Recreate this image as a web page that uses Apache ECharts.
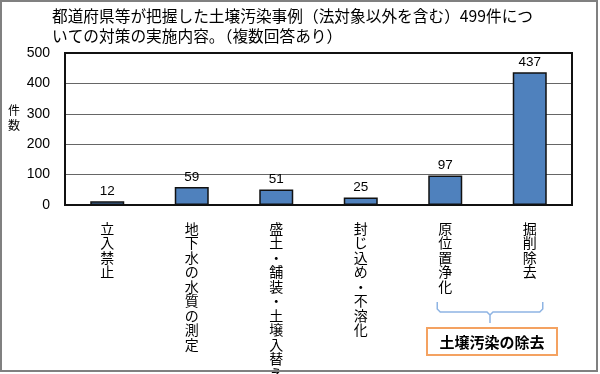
<!DOCTYPE html>
<html><head><meta charset="utf-8">
<script src="https://cdn.jsdelivr.net/npm/echarts@6/dist/echarts.min.js"></script>
<style>html,body{margin:0;padding:0;background:#fff}#c{width:600px;height:374px}</style>
</head><body><div id="c"></div>
<script>
const categories = ['立入禁止','地下水の水質の測定','盛土・舗装・土壌入替え','封じ込め・不溶化','原位置浄化','掘削除去'];
const values = [12, 59, 51, 25, 97, 437];
const yTicks = [0, 100, 200, 300, 400, 500];
const titleLines = ['都道府県等が把握した土壌汚染事例（法対象以外を含む）499件につ', 'いての対策の実施内容。（複数回答あり）'];
const groupLabel = '土壌汚染の除去';
const yName = '件数';

const jp = '"Noto Sans CJK JP", sans-serif';
const chart = echarts.init(document.getElementById('c'));
chart.setOption({
  animation: false,
  backgroundColor: '#fff',
  title: {
    text: titleLines.join('\n'), left: 47, top: 1,
    textStyle: { fontFamily: jp, fontSize: 15.7, fontWeight: 'normal', color: '#000', lineHeight: 20 }
  },
  grid: { left: 65, right: 28, top: 53, bottom: 169, outerBoundsMode: 'none', containLabel: false },
  xAxis: {
    type: 'category', data: categories,
    axisLine: { show: false }, axisTick: { show: false },
    axisLabel: {
      margin: 16, interval: 0, fontFamily: jp, fontSize: 14, color: '#000', lineHeight: 14.5,
      verticalAlign: 'top',
      formatter: v => v.split('').join('\n')
    }
  },
  yAxis: {
    type: 'value', min: yTicks[0], max: yTicks[yTicks.length - 1], interval: 100,
    axisLine: { show: false }, axisTick: { show: false },
    axisLabel: { margin: 15, fontFamily: '"Liberation Sans", sans-serif', fontSize: 14, color: '#000' },
    splitLine: { lineStyle: { color: '#666', width: 1 } }
  },
  series: [{
    type: 'bar', data: values, barWidth: 34,
    itemStyle: { color: '#4f81bd', borderColor: '#111', borderWidth: 1.5 },
    label: { show: true, position: 'top', distance: 3, fontFamily: '"Liberation Sans", sans-serif', fontSize: 13.5, color: '#000' }
  }]
});

const gridRect = chart.getModel().getComponent('grid', 0).coordinateSystem.getRect();
const c5 = chart.convertToPixel({ xAxisIndex: 0 }, categories[4]);
const c6 = chart.convertToPixel({ xAxisIndex: 0 }, categories[5]);
const bl = c5 - 8, br = c6 + 13, bm = (bl + br) / 2;
const yt = 302, yb = 312, ys = 323;
const braceStyle = { fill: 'none', stroke: '#8eb4e3', lineWidth: 1.5 };
chart.setOption({
  graphic: [
    { type: 'rect', shape: { x: 1, y: 1, width: 596, height: 370 }, style: { fill: 'none', stroke: '#808080', lineWidth: 2 }, z: 100 },
    { type: 'rect', shape: { x: gridRect.x, y: gridRect.y, width: gridRect.width, height: gridRect.height }, style: { fill: 'none', stroke: '#111', lineWidth: 2 }, z: 100 },
    { type: 'text', x: 14, y: 118, style: { text: yName.split('').join('\n'), fontFamily: jp, fontSize: 12, lineHeight: 15, fill: '#000', textAlign: 'center', textVerticalAlign: 'middle' }, z: 101 },
    { type: 'polyline', shape: { points: [[bl, yt], [bl, yb - 3], [bl + 3, yb], [bm - 3, yb], [bm, yb + 3], [bm, ys]] }, style: braceStyle, z: 100 },
    { type: 'polyline', shape: { points: [[br, yt], [br, yb - 3], [br - 3, yb], [bm + 3, yb], [bm, yb + 3]] }, style: braceStyle, z: 100 },
    { type: 'rect', shape: { x: bm - 63, y: 328, width: 130, height: 27 }, style: { fill: '#fff', stroke: '#f4a261', lineWidth: 2 }, z: 100 },
    { type: 'text', x: bm + 2, y: 342, style: { text: groupLabel, fontFamily: jp, fontSize: 15, fontWeight: 'bold', fill: '#000', textAlign: 'center', textVerticalAlign: 'middle' }, z: 101 }
  ]
});
</script></body></html>
